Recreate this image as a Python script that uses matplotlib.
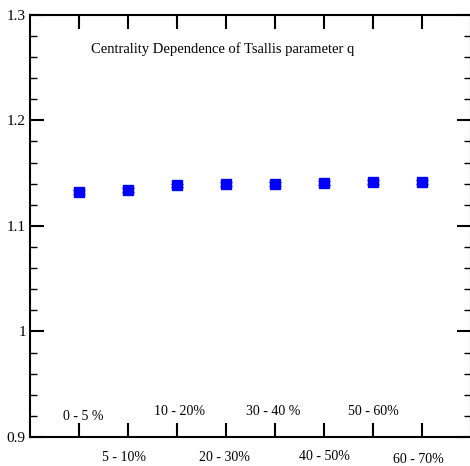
import matplotlib.pyplot as plt
from matplotlib.ticker import MultipleLocator

# centrality bins and fitted Tsallis q values
bins = [1, 2, 3, 4, 5, 6, 7, 8]
q_vals = [1.1322, 1.1336, 1.1383, 1.1398, 1.1400, 1.1408, 1.1417, 1.1414]
q_err = [0.0018, 0.0018, 0.0018, 0.0018, 0.0018, 0.0018, 0.0018, 0.0018]

# class labels written inside / under the frame
upper_labels = ["0 - 5 %", "10 - 20%", "30 - 40 %", "50 - 60%"]
upper_x = [1.08, 3.05, 4.96, 7.0]
upper_y = [0.919, 0.9237, 0.9237, 0.9237]
lower_labels = ["5 - 10%", "20 - 30%", "40 - 50%", "60 - 70%"]
lower_x = [1.92, 3.97, 6.0, 7.93]
lower_y = [0.881, 0.881, 0.882, 0.879]

title = "Centrality Dependence of Tsallis parameter q"

plt.rcParams['font.family'] = ['Liberation Serif', 'DejaVu Serif']

fig = plt.figure(figsize=(4.70, 4.66), dpi=100)
ax = fig.add_axes([30 / 470, 1 - 437 / 466, 441 / 470, (437 - 14.7) / 466])

ax.errorbar(bins, q_vals, yerr=q_err, fmt='s', color='#0000ff', ms=7,
            capsize=4, elinewidth=1, capthick=1)

ax.set_xlim(0, 9)
ax.set_ylim(0.9, 1.3)
ax.yaxis.set_minor_locator(MultipleLocator(0.02))
ax.set_yticks([0.9, 1.0, 1.1, 1.2, 1.3])
ax.set_yticklabels(["0.9", "1", "1.1", "1.2", "1.3"])
ax.set_xticks(bins)
ax.set_xticklabels([])

ax.tick_params(axis='both', which='major', direction='in', length=10, width=1.5,
               top=True, right=True, labelsize=11, pad=3)
ax.tick_params(axis='y', which='minor', direction='in', length=5, width=1,
               right=True)
for s in ax.spines.values():
    s.set_linewidth(1.5)

for lab, x, y in zip(upper_labels, upper_x, upper_y):
    ax.text(x, y, lab, ha='center', va='center', fontsize=10)
for lab, x, y in zip(lower_labels, lower_x, lower_y):
    ax.text(x, y, lab, ha='center', va='center', fontsize=10, clip_on=False)

ax.text(3.93, 1.2675, title, ha='center', va='center', fontsize=10.5)

fig.savefig("out.png", dpi=100)
